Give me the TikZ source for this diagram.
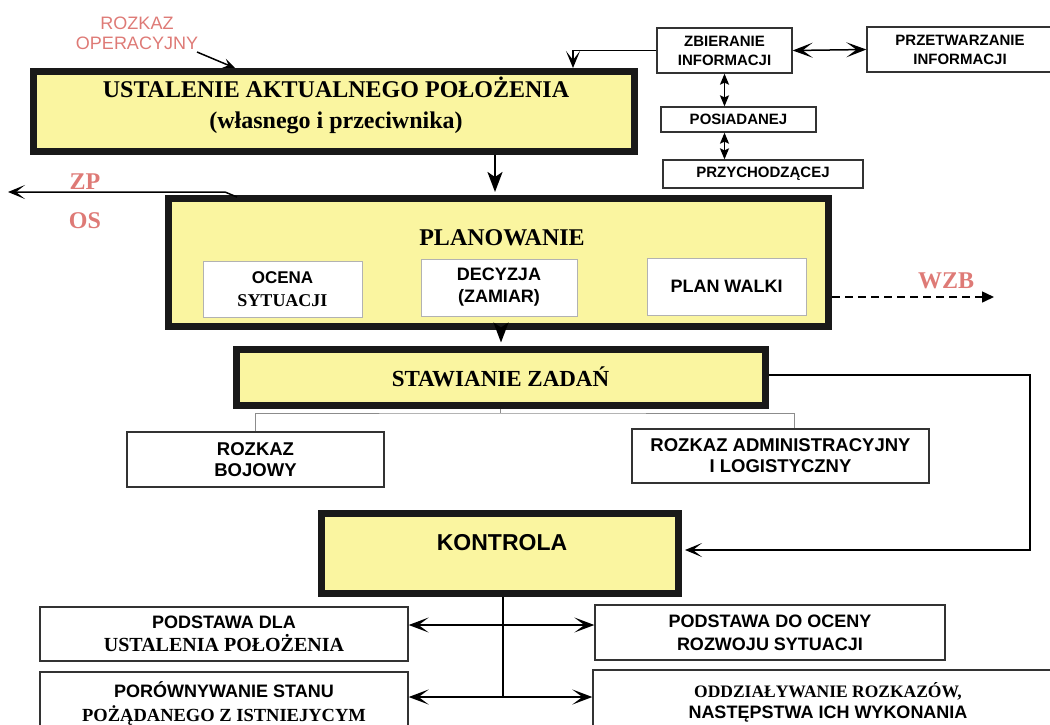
\documentclass[tikz,border=0pt]{standalone}
\usepackage{fontspec}
\setmainfont{Liberation Serif}
\setsansfont{Liberation Sans}
\usetikzlibrary{arrows.meta,calc}
\definecolor{phaseyellow}{RGB}{250,245,160}
\definecolor{notered}{RGB}{222,122,118}
\newcommand{\fsz}[2]{\fontsize{#1}{#2}\selectfont}
\tikzstyle{phase} = [rectangle, draw=black!90, line width=7pt, fill=phaseyellow, inner sep=0pt]
\tikzstyle{infobox} = [rectangle, draw=black!80, line width=1.3pt, fill=white,
    align=center, inner sep=0pt, font=\sffamily\bfseries\fsz{18}{23}]
\tikzstyle{smallbox} = [infobox, font=\sffamily\bfseries\fsz{15}{19}]
\tikzstyle{subbox} = [rectangle, draw=black!30, line width=1pt, fill=white,
    align=center, inner sep=0pt, font=\sffamily\bfseries\fsz{18}{22}]
\tikzstyle{note} = [text=notered, inner sep=0pt, align=center]
\tikzstyle{flow} = [line width=2.5pt, -{Stealth[length=20pt,width=15pt,inset=5pt]}, shorten >=3pt]
\tikzstyle{link} = [line width=1.5pt, -{Stealth[length=17pt,width=14pt,inset=9pt]}]
\tikzstyle{both} = [line width=1.5pt, {Stealth[length=20pt,width=15pt,inset=10pt]}-{Stealth[length=20pt,width=15pt,inset=10pt]}]
\tikzstyle{tiny} = [line width=1.5pt, {Stealth[length=11pt,width=9pt,inset=2pt]}-{Stealth[length=11pt,width=9pt,inset=2pt]}]
\tikzstyle{bracket} = [draw=black!45, line width=0.8pt]

\begin{document}
\begin{tikzpicture}[x=1pt,y=-1pt]
  \clip (0,0) rectangle (1050,724);

  % main phases
  \node[phase, minimum width=601pt, minimum height=80pt]  (ust) at (334,111.5) {};
  \node[font=\rmfamily\bfseries\fsz{24}{31}, align=center] (ustText) at (336,105)
       {USTALENIE AKTUALNEGO POŁOŻENIA\\(własnego i przeciwnika)};
  \node[phase, minimum width=660pt, minimum height=128pt] (plan) at (498.5,262.5) {};
  \node[font=\rmfamily\bfseries\fsz{24}{28}] (planText) at (502,238) {PLANOWANIE};
  \node[subbox, minimum width=159pt, minimum height=56pt, font=\sffamily\bfseries\fsz{17}{23}]
       (ocena) at (282.5,289) {OCENA\\\rmfamily\fsz{18}{23}SYTUACJI};
  \node[subbox, minimum width=156pt, minimum height=57pt] (decyzja) at (499,287.5)
       {DECYZJA\\(ZAMIAR)};
  \node[subbox, minimum width=159pt, minimum height=57pt] (walka) at (726.5,286.5)
       {PLAN WALKI};
  \node[phase, minimum width=529pt, minimum height=56pt, font=\rmfamily\bfseries\fsz{23}{26}]
       (staw) at (500.5,377) {STAWIANIE ZADAŃ};
  \node[infobox, minimum width=257pt, minimum height=55pt, font=\sffamily\bfseries\fsz{18.5}{21}]
       (bojowy) at (255.5,459.5) {ROZKAZ\\BOJOWY};
  \node[infobox, minimum width=297pt, minimum height=54pt, font=\sffamily\bfseries\fsz{18.5}{21}]
       (admin) at (780.5,456) {ROZKAZ ADMINISTRACYJNY\\I LOGISTYCZNY};
  \node[phase, minimum width=357pt, minimum height=80pt] (kontrola) at (500,553.5) {};
  \node[font=\sffamily\bfseries\fsz{23}{26}] (kontrolaText) at (502,543) {KONTROLA};

  % results of control
  \node[infobox, minimum width=368pt, minimum height=54pt] (pdla) at (224,634)
       {PODSTAWA DLA\\\rmfamily\fsz{20}{23}USTALENIA POŁOŻENIA};
  \node[infobox, minimum width=350pt, minimum height=55pt] (pdo) at (770,632.5)
       {PODSTAWA DO OCENY\\ROZWOJU SYTUACJI};
  \node[infobox, minimum width=368pt, minimum height=62pt, font=\sffamily\bfseries\fsz{18}{24}]
       (porown) at (224,703) {PORÓWNYWANIE STANU\\\rmfamily\fsz{18.5}{24}POŻĄDANEGO Z ISTNIEJYCYM};
  \node[infobox, minimum width=470pt, minimum height=64pt, font=\rmfamily\bfseries\fsz{17.5}{21}]
       (oddz) at (828,702) {ODDZIAŁYWANIE ROZKAZÓW,\\\sffamily\fsz{18}{21}NASTĘPSTWA ICH WYKONANIA};

  % information
  \node[smallbox, minimum width=135pt, minimum height=45pt] (zbier) at (724.5,50.5) {ZBIERANIE\\INFORMACJI};
  \node[smallbox, minimum width=186pt, minimum height=45pt] (przetw) at (960,49.5) {PRZETWARZANIE\\INFORMACJI};
  \node[smallbox, minimum width=155pt, minimum height=25pt] (posiad) at (738.5,119.5) {POSIADANEJ};
  \node[smallbox, minimum width=200pt, minimum height=28pt] (przych) at (763,174) {PRZYCHODZĄCEJ};

  % notes
  \node[note, font=\sffamily\fsz{18}{20}] (rozkazOp) at (137,33) {ROZKAZ\\OPERACYJNY};
  \node[note, font=\rmfamily\bfseries\fsz{24}{26}] (zp) at (85,182) {ZP};
  \node[note, font=\rmfamily\bfseries\fsz{24}{26}] (os) at (85,221) {OS};
  \node[note, font=\rmfamily\bfseries\fsz{24}{26}] (wzb) at (946,281) {WZB};

  \coordinate (opOut) at (197,52);
  \coordinate (opIn) at (235,68);
  \coordinate (ustIn) at (573,68);
  \coordinate (zpStart) at (237,197);
  \coordinate (zpEnd) at (8,192);
  \coordinate (wzbEnd) at (994,297);
  \coordinate (rt) at (1030,375);
  \coordinate (brk) at (500.5,413);
  \coordinate (k1) at (503,625);
  \coordinate (k2) at (503,697);

  % connectors
  \draw[link, -{Stealth[length=12pt,width=10pt,inset=5pt]}] (opOut) -- (opIn);
  \draw[link] (zbier.west) -| (ustIn);
  \draw[both] (zbier.east) -- (przetw.west);
  \draw[tiny] (zbier.south) -- (zbier.south |- posiad.north);
  \draw[tiny] (posiad.south -| zbier.south) -- (zbier.south |- przych.north);
  \draw[flow] (ust.south -| 495,0) -- (plan.north -| 495,0);
  \draw[link] (zpStart) -- (225,192) -- (zpEnd);
  \draw[line width=1.5pt, dash pattern=on 8pt off 5pt, -{Triangle[length=12pt,width=11pt]}]
       (plan.east |- wzbEnd) -- (wzbEnd);
  \draw[flow, line width=2pt] (plan.south -| 501,0) -- (staw.north -| 501,0);
  \draw[bracket] (staw.south) -- (brk);
  \draw[bracket] (bojowy.north) |- (brk) -| ($(admin.north)+(14,0)$);
  \draw[link, shorten >=3pt] (staw.east |- rt) -- (rt) |- (kontrola.east |- 0,550);
  \draw[line width=2pt] (kontrola.south -| k1) -- (k2);
  \draw[both] (pdla.east |- k1) -- (pdo.west |- k1);
  \draw[both, line width=2pt] (porown.east |- k2) -- (oddz.west |- k2);
\end{tikzpicture}
\end{document}
